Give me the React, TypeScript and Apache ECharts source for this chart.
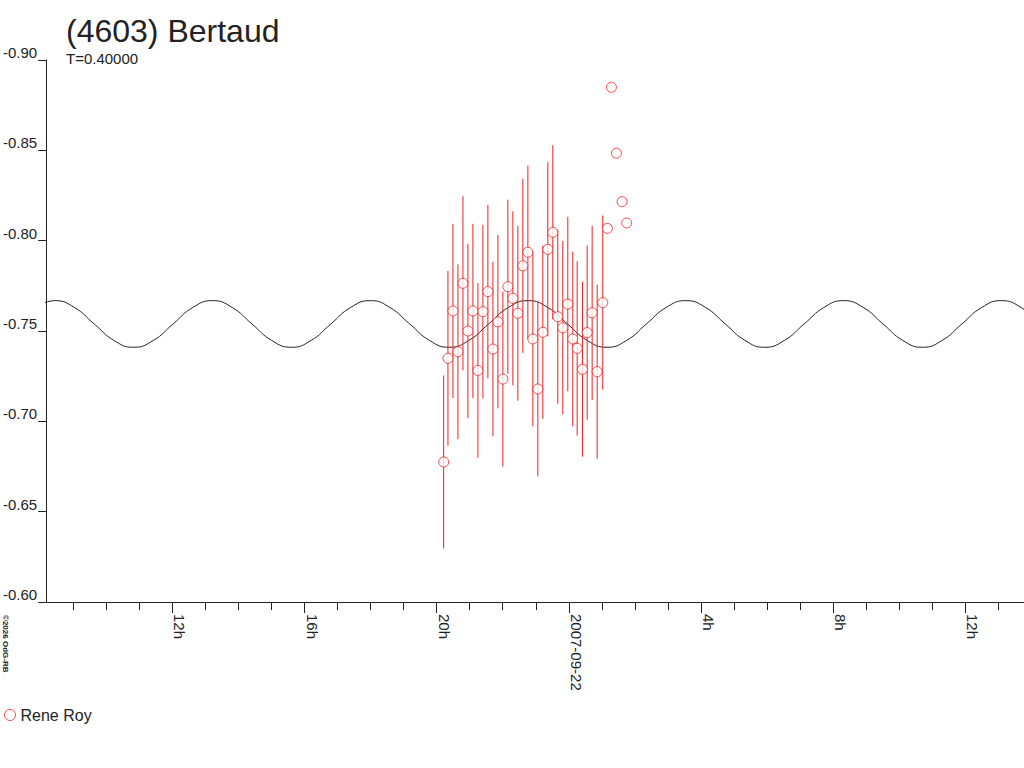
import React, { useEffect, useRef } from "react";
import * as echarts from "echarts";

// ---- Data ----
const titleText = "(4603) Bertaud";
const subtitleText = "T=0.40000";
const observer = "Rene Roy";
const copyrightText = "©2026 OdG-RB";

// x axis: hours relative to 2007-09-22 00h
const X_MIN = -15.82;
const X_MAX = 13.78;
const hourTicks = [-15, -14, -13, -12, -11, -10, -9, -8, -7, -6, -5, -4, -3, -2, -1, 0, 1, 2, 3, 4, 5, 6, 7, 8, 9, 10, 11, 12, 13];
const majorTickHours = [-12, -8, -4, 0, 4, 8, 12];
const majorTickLabels = ["12h", "16h", "20h", "2007-09-22", "4h", "8h", "12h"];

const Y_MIN = -0.9;
const Y_MAX = -0.6;
const Y_STEP = 0.05;

// observations (Rene Roy)
const obsHours = [-3.788, -3.658, -3.507, -3.356, -3.204, -3.053, -2.902, -2.751, -2.6, -2.449, -2.297, -2.146, -1.995, -1.844, -1.693, -1.542, -1.391, -1.239, -1.088, -0.937, -0.786, -0.635, -0.484, -0.333, -0.181, -0.03, 0.121, 0.254, 0.414, 0.556, 0.707, 0.859, 1.028, 1.17, 1.291, 1.442, 1.614, 1.753];
const obsMags = [-0.6775, -0.7349, -0.7611, -0.7385, -0.7764, -0.75, -0.7611, -0.7282, -0.7607, -0.7718, -0.74, -0.7551, -0.7234, -0.7745, -0.7681, -0.7598, -0.7861, -0.7936, -0.7456, -0.7179, -0.7493, -0.7952, -0.8046, -0.7579, -0.7518, -0.7649, -0.7456, -0.7404, -0.7288, -0.7491, -0.7601, -0.7275, -0.7657, -0.8068, -0.8849, -0.8484, -0.8216, -0.8098];
const obsErrs: (number | null)[] = [0.0479, 0.0484, 0.0482, 0.0484, 0.0482, 0.0482, 0.0482, 0.0483, 0.048, 0.048, 0.0483, 0.048, 0.0484, 0.0482, 0.0482, 0.0484, 0.0482, 0.0479, 0.0484, 0.0484, 0.048, 0.0482, 0.0482, 0.0482, 0.048, 0.0483, 0.0484, 0.0483, 0.0484, 0.0482, 0.0482, 0.0482, 0.0482, null, null, null, null, null];

// fitted light curve
const curveHours = [-16.158, -15.561, -14.964, -14.367, -13.77, -13.173, -12.576, -11.979, -11.382, -10.785, -10.188, -9.591, -8.994, -8.397, -7.8, -7.203, -6.606, -6.009, -5.412, -4.815, -4.218, -3.621, -3.024, -2.427, -1.83, -1.233, -0.636, -0.039, 0.558, 1.155, 1.752, 2.349, 2.946, 3.543, 4.14, 4.737, 5.334, 5.931, 6.528, 7.125, 7.722, 8.319, 8.916, 9.513, 10.11, 10.707, 11.304, 11.901, 12.498, 13.095, 13.692, 14.289];
const curveMags = [-0.763, -0.7668, -0.763, -0.7539, -0.7448, -0.741, -0.7448, -0.7539, -0.763, -0.7668, -0.763, -0.7539, -0.7448, -0.741, -0.7448, -0.7539, -0.763, -0.7668, -0.763, -0.7539, -0.7448, -0.741, -0.7448, -0.7539, -0.763, -0.7668, -0.763, -0.7539, -0.7448, -0.741, -0.7448, -0.7539, -0.763, -0.7668, -0.763, -0.7539, -0.7448, -0.741, -0.7448, -0.7539, -0.763, -0.7668, -0.763, -0.7539, -0.7448, -0.741, -0.7448, -0.7539, -0.763, -0.7668, -0.763, -0.7539];

const RED = "#ee2222";
const INK = "#222222";
const FONT = "'Liberation Sans', Arial, sans-serif";

export default function App() {
  const ref = useRef<HTMLDivElement>(null);

  useEffect(() => {
    if (!ref.current) return;
    const chart = echarts.init(ref.current, undefined, { renderer: "svg" });

    const scatterData = obsHours.map((h, i) => [h, obsMags[i]]);
    const errData = obsHours
      .map((h, i) => [h, obsMags[i], obsErrs[i]])
      .filter((d) => d[2] !== null);
    const curveData = curveHours.map((h, i) => [h, curveMags[i]]);

    const baseX = {
      type: "value" as const,
      min: X_MIN,
      max: X_MAX,
      position: "bottom" as const,
      splitLine: { show: false },
    };

    chart.setOption({
      animation: false,
      backgroundColor: "#ffffff",
      textStyle: { fontFamily: FONT },
      title: {
        text: titleText,
        subtext: subtitleText,
        left: 66,
        top: 15,
        padding: 0,
        itemGap: 4,
        textStyle: { fontSize: 32, fontWeight: "normal", color: INK, fontFamily: FONT },
        subtextStyle: { fontSize: 15, color: INK, fontFamily: FONT },
      },
      legend: {
        left: 4,
        top: 707,
        padding: 0,
        itemWidth: 11,
        itemHeight: 11,
        selectedMode: false,
        textStyle: { fontSize: 16, color: INK, fontFamily: FONT },
        data: [
          {
            name: observer,
            icon: "circle",
            itemStyle: { color: "#ffffff", borderColor: RED, borderWidth: 1 },
          },
        ],
      },
      grid: { left: 45, right: 0, top: 60, bottom: 166, containLabel: false },
      xAxis: [
        {
          ...baseX,
          axisLine: { show: true, onZero: false, lineStyle: { color: INK, width: 1 } },
          axisTick: { show: true, customValues: hourTicks, length: 8, lineStyle: { color: INK, width: 1 } },
          axisLabel: { show: false },
        },
        {
          ...baseX,
          axisLine: { show: false, onZero: false },
          axisTick: { show: true, customValues: majorTickHours, length: 11, lineStyle: { color: INK, width: 1 } },
          axisLabel: {
            show: true,
            customValues: majorTickHours,
            rotate: -90,
            margin: 12,
            verticalAlign: "bottom",
            fontSize: 15,
            color: INK,
            fontFamily: FONT,
            formatter: (v: number) => {
              const idx = majorTickHours.findIndex((t) => Math.abs(t - v) < 1e-6);
              return idx >= 0 ? majorTickLabels[idx] : "";
            },
          },
        },
      ],
      yAxis: {
        type: "value",
        inverse: true,
        min: Y_MIN,
        max: Y_MAX,
        interval: Y_STEP,
        splitLine: { show: false },
        axisLine: { show: true, onZero: false, lineStyle: { color: INK, width: 1 } },
        axisTick: { show: true, length: 8, lineStyle: { color: INK, width: 1 } },
        axisLabel: {
          margin: 9,
          verticalAlign: "bottom",
          fontSize: 15,
          color: INK,
          fontFamily: FONT,
          formatter: (v: number) => v.toFixed(2),
        },
      },
      graphic: [
        {
          type: "text",
          x: 1,
          y: 615,
          rotation: -Math.PI / 2,
          style: {
            text: copyrightText,
            font: "bold 8px " + FONT,
            fill: INK,
            textAlign: "left",
            textVerticalAlign: "bottom",
          },
        },
      ],
      series: [
        {
          name: "fit",
          type: "line",
          xAxisIndex: 0,
          data: curveData,
          showSymbol: false,
          smooth: 0.5,
          lineStyle: { color: INK, width: 1 },
          z: 1,
          silent: true,
        },
        {
          name: "errors",
          type: "custom",
          xAxisIndex: 0,
          data: errData,
          encode: { x: 0, y: 1 },
          z: 2,
          silent: true,
          renderItem: (params: any, api: any) => {
            const x = api.value(0);
            const m = api.value(1);
            const e = api.value(2);
            const p1 = api.coord([x, m - e]);
            const p2 = api.coord([x, m + e]);
            return {
              type: "line",
              shape: { x1: p1[0], y1: p1[1], x2: p2[0], y2: p2[1] },
              style: { stroke: RED, lineWidth: 1 },
            };
          },
        },
        {
          name: observer,
          type: "scatter",
          xAxisIndex: 0,
          data: scatterData,
          symbol: "circle",
          symbolSize: 10,
          itemStyle: { color: "#ffffff", borderColor: RED, borderWidth: 1 },
          z: 3,
        },
      ],
    });

    return () => chart.dispose();
  }, []);

  return (
    <div
      ref={ref}
      style={{ position: "fixed", left: 0, top: 0, width: 1024, height: 768, background: "#fff" }}
    />
  );
}
